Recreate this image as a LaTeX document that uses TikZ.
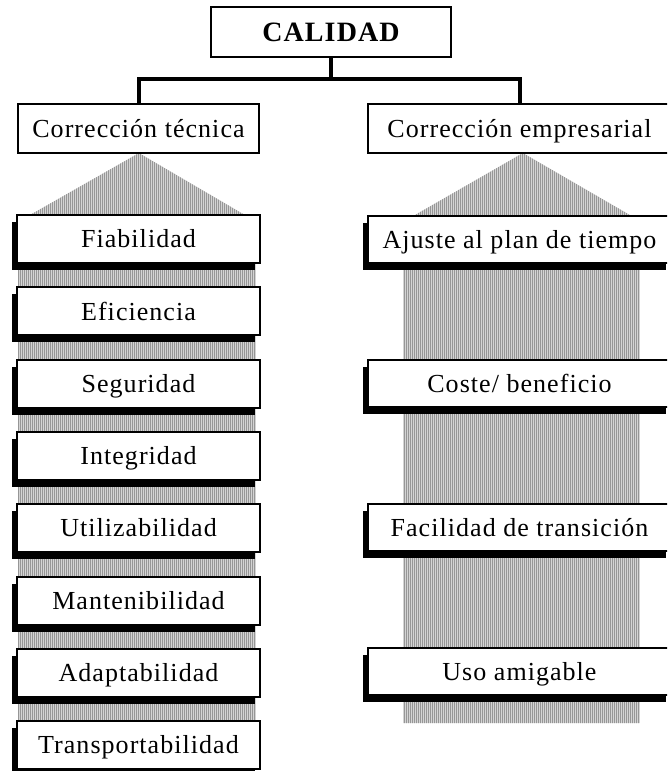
\documentclass[tikz,border=0pt]{standalone}
\usepackage{fontspec}
\setmainfont{Liberation Serif}[LetterSpace=4]
\usetikzlibrary{shadows}
\definecolor{stripelight}{RGB}{212,212,212}
\definecolor{stripedark}{RGB}{150,150,150}
\tikzset{
  every node/.style={font=\fontsize{26}{30}\selectfont},
  box/.style={draw=black, line width=2pt, fill=white, inner sep=0pt,
    text height=17.5pt, text depth=0pt, align=center},
  shadowbox/.style={box, drop shadow={shadow xshift=-5pt, shadow yshift=-7pt,
    fill=black, opacity=1}},
  leftitem/.style={shadowbox, minimum width=243pt, minimum height=48pt},
  rightitem/.style={shadowbox, minimum width=303pt, minimum height=47pt},
  conn/.style={line width=4pt, draw=black},
}
\newcommand{\stripedregion}[3]{%
  % #1: clip path, #2: left x, #3: right x
  \begin{scope}
    \clip #1;
    \fill[stripelight] (#2,140) rectangle (#3,760);
    \foreach \sx in {#2,...,#3} {
      \ifodd\sx\relax\else
        \draw[stripedark, line width=1pt] (\sx,140) -- (\sx,760);
      \fi
    }
  \end{scope}}
\begin{document}
\begin{tikzpicture}[x=1pt, y=-1pt]
  \useasboundingbox (0,0) rectangle (667,771);
  \clip (0,0) rectangle (667,771);

  % striped roof-and-column backgrounds
  \stripedregion{(139,153) -- (245,215) -- (256,215) -- (256,745) -- (18,745) -- (18,215) -- (30,215) -- cycle}{18}{256}
  \stripedregion{(523,153) -- (630,215) -- (640,215) -- (640,723) -- (403,723) -- (403,215) -- (415,215) -- cycle}{402}{640}

  % top level
  \node[box, minimum width=240pt, minimum height=50pt, text height=19pt,
        font=\fontsize{28}{32}\selectfont\bfseries] (cal) at (331,32) {CALIDAD};
  \node[box, minimum width=241pt, minimum height=49pt] (tec) at (138.5,128.5) {Corrección técnica};
  \node[box, minimum width=303pt, minimum height=49pt] (emp) at (519.5,128.5) {Corrección empresarial};

  % connectors
  \draw[conn] (cal.south) -- ++(0,21) -| (tec.north);
  \draw[conn] (cal.south) -- ++(0,21) -| (emp.north);

  % technical items
  \node[leftitem] (fia) at (138.5,239.0) {Fiabilidad};
  \node[leftitem] (efi) at (138.5,311.3) {Eficiencia};
  \node[leftitem] (seg) at (138.5,383.6) {Seguridad};
  \node[leftitem] (int) at (138.5,455.9) {Integridad};
  \node[leftitem] (uti) at (138.5,528.2) {Utilizabilidad};
  \node[leftitem] (man) at (138.5,600.5) {Mantenibilidad};
  \node[leftitem] (ada) at (138.5,672.8) {Adaptabilidad};
  \node[leftitem] (tra) at (138.5,745.1) {Transportabilidad};

  % business items
  \node[rightitem] (aju) at (519.5,239.5) {Ajuste al plan de tiempo};
  \node[rightitem] (cos) at (519.5,383.5) {Coste/ beneficio};
  \node[rightitem] (fac) at (519.5,527.5) {Facilidad de transición};
  \node[rightitem] (uso) at (519.5,671.5) {Uso amigable};
\end{tikzpicture}
\end{document}
